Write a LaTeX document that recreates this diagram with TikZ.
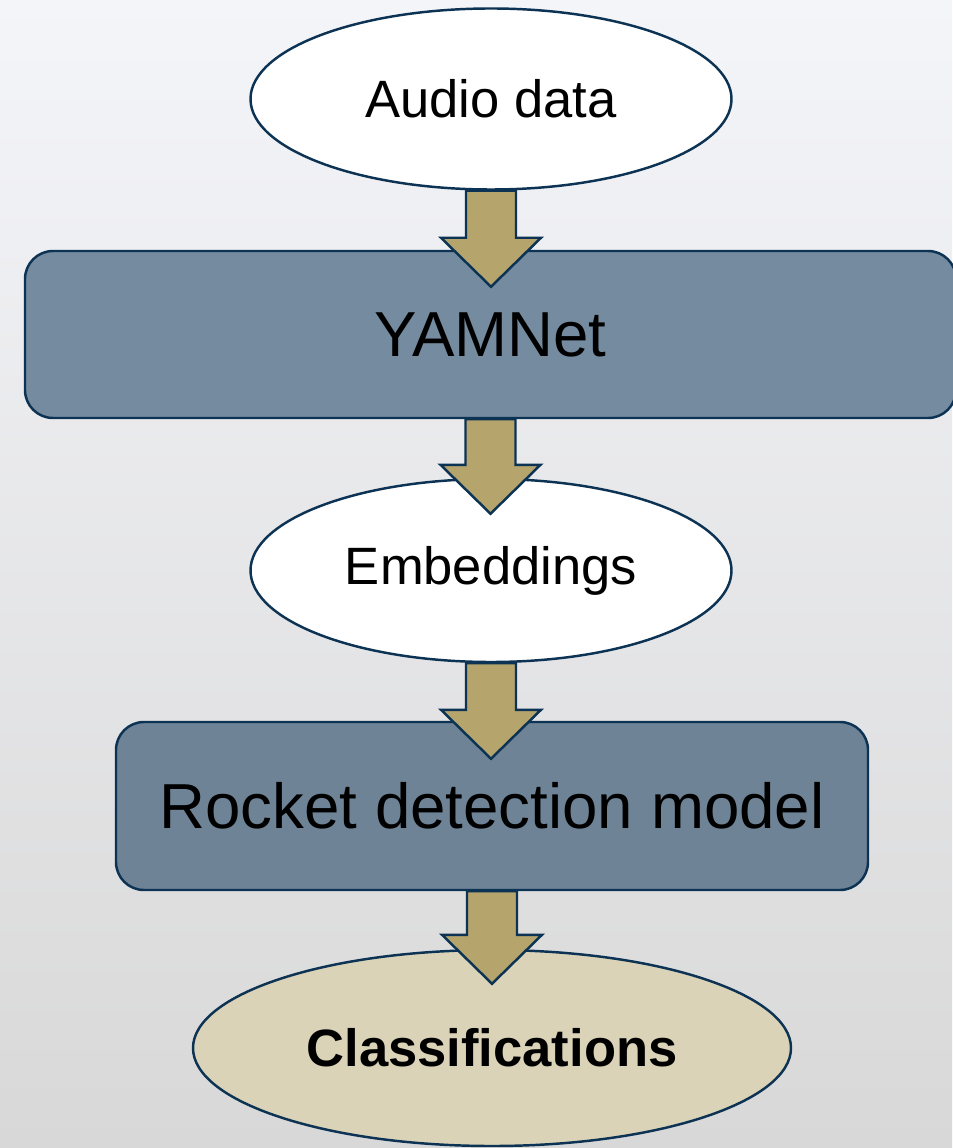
\documentclass[tikz,border=0pt]{standalone}
\usepackage{fontspec}
\setmainfont{Liberation Sans}
\usetikzlibrary{shapes.geometric,calc}
\definecolor{edgeblue}{HTML}{0D3354}
\definecolor{boxslate}{HTML}{758B9F}
\definecolor{arrowtan}{HTML}{B5A46C}
\definecolor{resultsand}{HTML}{DBD3B8}
\tikzset{
  dataoval/.style={draw=edgeblue, line width=1.4pt, ellipse, fill=white, inner sep=0pt,
    font=\fontsize{29.9}{36}\selectfont},
  stagebox/.style={draw=edgeblue, line width=1.4pt, rectangle, rounded corners=0.56cm,
    fill=boxslate, inner sep=0pt, font=\fontsize{36.2}{43}\selectfont},
  flowarrow/.style={draw=edgeblue, fill=arrowtan, line width=1.4pt, line join=miter,
    to path={let \p1=(\tikztostart), \p2=(\tikztotarget) in
      (\x1-0.5cm,\y1) -- (\x1+0.5cm,\y1) -- (\x1+0.5cm,\y2+0.98cm)
      -- (\x1+1cm,\y2+0.98cm) -- (\x1,\y2) -- (\x1-1cm,\y2+0.98cm)
      -- (\x1-0.5cm,\y2+0.98cm) -- cycle}}
}
\begin{document}
\begin{tikzpicture}
\useasboundingbox (0,0) rectangle (19.04,-22.96);
\shade[top color={rgb,255:red,244;green,245;blue,249}, bottom color={rgb,255:red,216;green,216;blue,216}]
  (0,0) rectangle (19.04,-22.96);
% pipeline stages, top to bottom
\node[dataoval, minimum width=9.62cm, minimum height=3.62cm] (audio) at (9.82,-1.98) {Audio data};
\node[stagebox, minimum width=18.62cm, minimum height=3.34cm] (yamnet) at (9.81,-6.69) {YAMNet};
\node[dataoval, minimum width=9.62cm, minimum height=3.66cm] (embed) at (9.82,-11.41) {Embeddings};
\node[stagebox, fill=boxslate!94!black, minimum width=15.04cm, minimum height=3.36cm] (model) at (9.84,-16.12) {Rocket detection model};
\node[dataoval, fill=resultsand, minimum width=11.96cm, minimum height=3.92cm] (classes) at (9.84,-20.96) {\bfseries Classifications};
% block arrows between stages
\draw[flowarrow] (audio.south) to ([yshift=-0.74cm]yamnet.north);
\draw[flowarrow] (yamnet.south) to ([yshift=-0.72cm]embed.north);
\draw[flowarrow] (embed.south) to ([yshift=-0.76cm]model.north);
\draw[flowarrow] (model.south) to ([yshift=-0.7cm]classes.north);
\end{tikzpicture}
\end{document}
